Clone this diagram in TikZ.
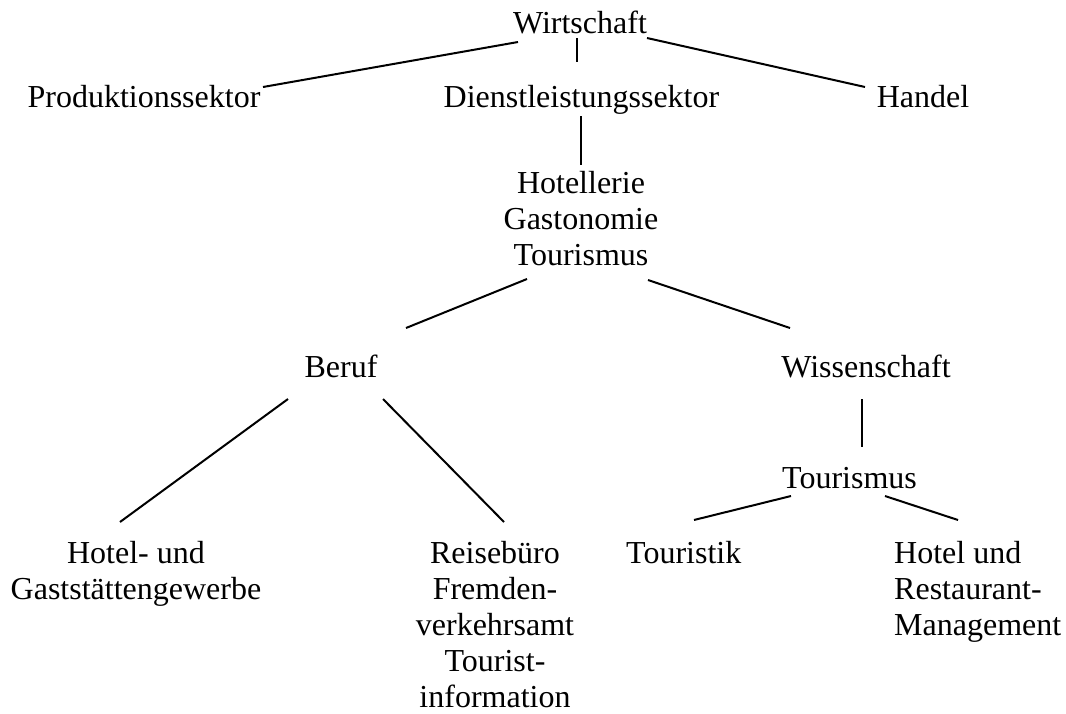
\documentclass[tikz,border=0pt]{standalone}
\usepackage{fontspec}
\setmainfont{Liberation Serif}
\usetikzlibrary{calc}
\begin{document}
\begin{tikzpicture}[x=1pt,y=-1pt,
  lbl/.style={inner sep=0pt,anchor=base,font=\fontsize{32}{36.2}\selectfont},
  multi/.style={lbl,align=center},
  multil/.style={lbl,align=left,anchor=base west},
  edge/.style={line width=2pt,line cap=butt}]
\fill[white] (0,0) rectangle (1066,713);
\useasboundingbox (0,0) rectangle (1066,713);

% level 0 and 1 (single lines: placed at their baseline)
\node[lbl] (w) at (580,33) {Wirtschaft};
\node[lbl] (p) at (144,107) {Produktionssektor};
\node[lbl] (d) at (581.5,107) {Dienstleistungssektor};
\node[lbl] (h) at (923,107) {Handel};

% service branch (multi-line nodes: placed at the baseline of their last line)
\node[multi] (g) at (581,265.4) {Hotellerie\\Gastonomie\\Tourismus};
\node[lbl] (b) at (341,377) {Beruf};
\node[lbl] (s) at (866,377) {Wissenschaft};
\node[lbl] (t) at (849.5,488) {Tourismus};

% leaves
\node[multi] (hg) at (136,599.2) {Hotel- und\\Gaststättengewerbe};
\node[multi] (r) at (495,707.8) {Reisebüro\\Fremden-\\verkehrsamt\\Tourist-\\information};
\node[lbl,anchor=base west] (tk) at (626,563) {Touristik};
\node[multil] (hr) at (894,635.4) {Hotel und\\Restaurant-\\Management};

% connectors
\draw[edge] ($(w.base)+(-62,9)$) -- ($(p.base)+(119,-20)$);
\draw[edge] ($(w.base)+(-3,5)$) -- ($(d.base)+(-4.5,-45)$);
\draw[edge] ($(w.base)+(67,5)$) -- ($(h.base)+(-58,-20)$);
\draw[edge] ($(d.base)+(-0.5,9)$) -- ($(g.base)+(0,-100.4)$);
\draw[edge] ($(g.base)+(-54,13.6)$) -- ($(b.base)+(65,-49)$);
\draw[edge] ($(g.base)+(67,14.6)$) -- ($(s.base)+(-76,-49)$);
\draw[edge] ($(b.base)+(-53,22)$) -- ($(hg.base)+(-16,-77.2)$);
\draw[edge] ($(b.base)+(42,22)$) -- ($(r.base)+(9,-185.8)$);
\draw[edge] ($(s.base)+(-4,22)$) -- ($(t.base)+(12.5,-41)$);
\draw[edge] ($(t.base)+(-58.5,8)$) -- ($(tk.base west)+(68,-43)$);
\draw[edge] ($(t.base)+(35.5,8)$) -- ($(hr.base west)+(64,-115.4)$);
\end{tikzpicture}
\end{document}
